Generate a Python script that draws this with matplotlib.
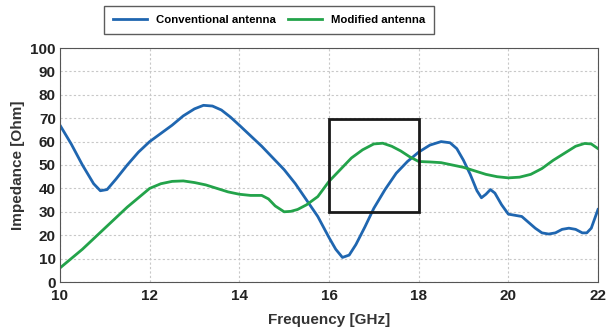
import matplotlib
matplotlib.use("Agg")
import matplotlib.pyplot as plt
from matplotlib.patches import Rectangle

plt.rcParams["font.family"] = ["Liberation Sans", "DejaVu Sans"]

freq_conv = [10, 10.25, 10.5, 10.75, 10.9, 11.05, 11.25, 11.5, 11.75, 12, 12.25, 12.5, 12.75,
             13, 13.2, 13.4, 13.6, 13.8, 14, 14.25, 14.5, 14.75, 15, 15.25, 15.5, 15.75,
             16, 16.15, 16.3, 16.45, 16.6, 16.8, 17, 17.25, 17.5, 17.75, 18, 18.25, 18.5,
             18.7, 18.85, 19, 19.15, 19.3, 19.4, 19.5, 19.6, 19.7, 19.85, 20, 20.15, 20.3,
             20.45, 20.6, 20.75, 20.9, 21.05, 21.2, 21.35, 21.5, 21.65, 21.75, 21.85, 22]
imp_conv = [67, 59, 50, 42, 39, 39.5, 44, 50, 55.5, 60, 63.5, 67, 71,
            74, 75.5, 75.2, 73.5, 70.5, 67, 62.5, 58, 53, 48, 42, 35, 28,
            19, 14, 10.5, 11.5, 16, 23.5, 31.5, 39.5, 46.5, 51.5, 55.5, 58.5, 60,
            59.5, 57, 52, 46, 39, 36, 37.5, 39.5, 38, 33, 29, 28.5, 28,
            25.5, 23, 21, 20.5, 21, 22.5, 23, 22.5, 21, 21, 23, 31]

freq_mod = [10, 10.25, 10.5, 10.75, 11, 11.25, 11.5, 11.75, 12, 12.25, 12.5, 12.75, 13,
            13.25, 13.5, 13.75, 14, 14.25, 14.5, 14.65, 14.8, 15, 15.15, 15.3, 15.5, 15.75,
            16, 16.25, 16.5, 16.75, 17, 17.2, 17.4, 17.6, 17.8, 18, 18.25, 18.5, 18.75,
            19, 19.25, 19.5, 19.75, 20, 20.25, 20.5, 20.75, 21, 21.25, 21.5, 21.7, 21.85, 22]
imp_mod = [6, 10, 14, 18.5, 23, 27.5, 32, 36, 40, 42, 43, 43.2, 42.5,
           41.5, 40, 38.5, 37.5, 37, 37, 35.5, 32.5, 30, 30.2, 31, 33, 36.5,
           43, 48, 53, 56.5, 59, 59.3, 58, 56, 53.5, 51.5, 51.3, 51, 50,
           49, 47.5, 46, 45, 44.5, 44.8, 46, 48.5, 52, 55, 58, 59.2, 59, 57]

zoom_box = (16, 30, 18, 69.5)

fig = plt.figure(figsize=(6.07, 3.31), dpi=100)
ax = fig.add_axes([60 / 607, 1 - 282 / 331, 538 / 607, 234 / 331])

blue, green = "#1f66b0", "#23a34a"
ax.plot(freq_conv, imp_conv, color=blue, lw=2, label="Conventional antenna")
ax.plot(freq_mod, imp_mod, color=green, lw=2, label="Modified antenna")

x0, y0, x1, y1 = zoom_box
ax.add_patch(Rectangle((x0, y0), x1 - x0, y1 - y0, fill=False, ec="#1a1a1a", lw=2, zorder=5))

ax.set_xlim(10, 22)
ax.set_ylim(0, 100)
ax.set_xticks(range(10, 23, 2))
ax.set_yticks(range(0, 101, 10))
ax.grid(True, ls=(0, (2, 2)), color="#c8c8c8", lw=0.8)
ax.tick_params(length=0, labelsize=11)
ax.tick_params(axis="x", pad=5)
ax.tick_params(axis="y", pad=3)
for lab in ax.get_xticklabels() + ax.get_yticklabels():
    lab.set_fontweight("bold")
    lab.set_color("#222222")
for s in ax.spines.values():
    s.set_color("#555555")
    s.set_linewidth(0.8)

ax.set_xlabel("Frequency [GHz]", fontsize=11, fontweight="bold", color="#333333", labelpad=7)
ax.set_ylabel("Impedance [Ohm]", fontsize=11, fontweight="bold", color="#333333", labelpad=4)

leg = fig.legend(loc="center", bbox_to_anchor=(269 / 607, 1 - 20 / 331), ncol=2,
                 frameon=True, fancybox=False, edgecolor="#333333", fontsize=8.2,
                 handlelength=3.0, columnspacing=1.0, borderpad=0.75)
for t in leg.get_texts():
    t.set_fontweight("bold")
leg.get_frame().set_linewidth(1)

fig.savefig("out.png", dpi=100)
